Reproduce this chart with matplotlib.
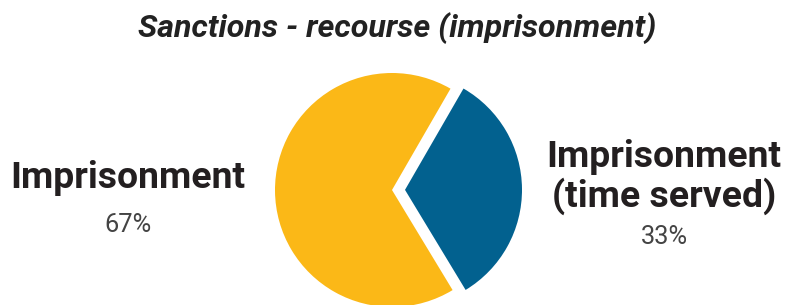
import matplotlib
matplotlib.use("Agg")
import matplotlib.pyplot as plt

title = "Sanctions - recourse (imprisonment)"
categories = ["Imprisonment", "Imprisonment\n(time served)"]
values = [67, 33]
pct_labels = ["67%", "33%"]
colors = ["#FBB817", "#02618F"]

plt.rcParams['font.family'] = ['Roboto', 'DejaVu Sans']

fig = plt.figure(figsize=(7.95, 3.05), dpi=100)
ax = fig.add_axes([0, 0, 1, 1])

ax.pie(values, colors=colors, startangle=60, explode=[0, 13],
       center=(392, 115), radius=117, wedgeprops=dict(linewidth=0))
ax.set_xlim(0, 795)
ax.set_ylim(0, 305)
ax.set_aspect('equal')
ax.axis('off')

ax.text(397, 277, title, ha='center', va='center', fontsize=23.2,
        fontweight='bold', fontstyle='italic', color='#222222')

ax.text(128, 127, categories[0], ha='center', va='center', fontsize=26.9,
        fontweight='bold', color='#231f20')
ax.text(128, 80, pct_labels[0], ha='center', va='center', fontsize=18.3,
        fontweight='normal', color='#444444')

ax.text(664, 128, categories[1], ha='center', va='center', fontsize=26.9,
        fontweight='bold', color='#231f20', linespacing=1.08)
ax.text(664, 68, pct_labels[1], ha='center', va='center', fontsize=18.3,
        fontweight='normal', color='#444444')

fig.savefig("out.png", dpi=100)
